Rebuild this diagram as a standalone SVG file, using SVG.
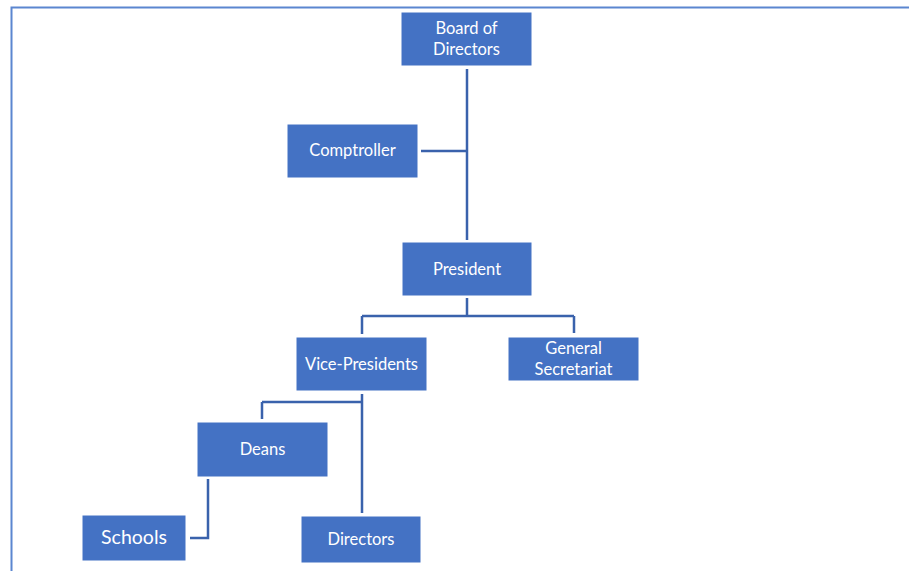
<svg xmlns="http://www.w3.org/2000/svg" width="909" height="571" viewBox="0 0 909 571">
<style>
.box{fill:#4472C4;stroke:#ffffff;stroke-width:1}
.t{font-family:Lato,"Liberation Sans",sans-serif;font-size:16.5px;fill:#ffffff;text-anchor:middle}
.c{fill:none;stroke:#3A62AC;stroke-width:2.5}
</style>
<rect width="909" height="571" fill="#ffffff"/>
<path d="M11.5 571 V7.5 H909" fill="none" stroke="#5B86D0" stroke-width="2"/>
<g id="connectors">
<path class="c" d="M467 69 V240"/>
<path class="c" d="M421 151 H467"/>
<path class="c" d="M467 298 V316 M362 316 H574 M362 316 V334 M574 316 V333"/>
<path class="c" d="M362 394 V513 M262 402 H362 M262 402 V419"/>
<path class="c" d="M208 479 V538 H190"/>
</g>
<g id="board"><rect class="box" x="401" y="12" width="131" height="54"/><text class="t" x="466.5" y="34">Board of</text><text class="t" x="466.5" y="55">Directors</text></g>
<g id="comptroller"><rect class="box" x="287" y="124" width="131" height="54"/><text class="t" x="352.5" y="156">Comptroller</text></g>
<g id="president"><rect class="box" x="402" y="242" width="130" height="54"/><text class="t" x="467" y="275">President</text></g>
<g id="vp"><rect class="box" x="296" y="337" width="131" height="54"/><text class="t" x="361.5" y="370">Vice-Presidents</text></g>
<g id="gensec"><rect class="box" x="508" y="337" width="131" height="44"/><text class="t" x="573.5" y="354">General</text><text class="t" x="573.5" y="375">Secretariat</text></g>
<g id="deans"><rect class="box" x="197" y="422" width="131" height="55"/><text class="t" x="262.5" y="455">Deans</text></g>
<g id="schools"><rect class="box" x="82" y="515" width="104" height="46"/><text class="t" x="134" y="544" style="font-size:19.5px">Schools</text></g>
<g id="directors"><rect class="box" x="301" y="516" width="120" height="47"/><text class="t" x="361" y="545">Directors</text></g>
</svg>
